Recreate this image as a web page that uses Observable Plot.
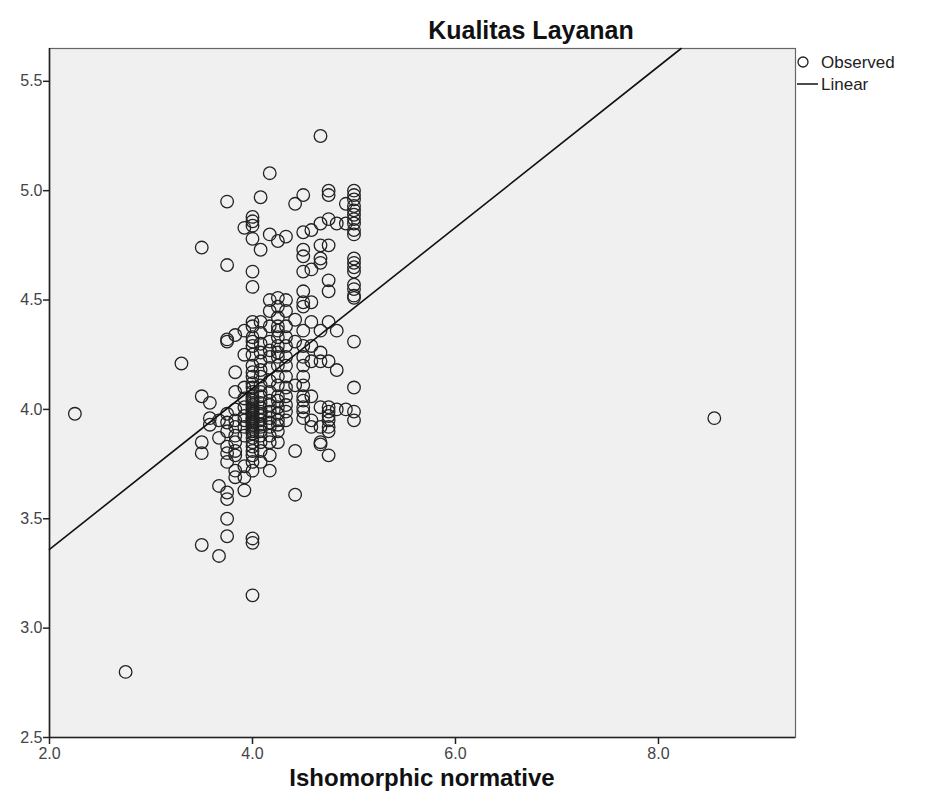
<!DOCTYPE html>
<html><head><meta charset="utf-8">
<script src="https://cdn.jsdelivr.net/npm/d3@7"></script>
<script src="https://cdn.jsdelivr.net/npm/@observablehq/plot@0.6"></script>
<style>body{margin:0;background:#fff}</style>
</head><body><div id="chart"></div>
<script>
const title = "Kualitas Layanan";
const xLabel = "Ishomorphic normative";
const legendLabels = ["Observed", "Linear"];
const xDomain = [2, 9.35];
const yDomain = [2.5, 5.65];
const xTicks = [2, 4, 6, 8];
const yTicks = [2.5, 3.0, 3.5, 4.0, 4.5, 5.0, 5.5];
const fitIntercept = 2.624;
const fitSlope = 0.368;

// observed values, grouped by x value
const colX = [2.25, 2.75, 3.3, 8.55, 3.5, 3.58, 3.67, 3.75, 3.83, 3.92, 4.0, 4.08, 4.17, 4.25, 4.33, 4.42, 4.5, 4.58, 4.67, 4.75, 4.83, 4.92, 5.0];
const colY = [
  [3.98],
  [2.80],
  [4.21],
  [3.96],
  [4.74, 3.85, 3.80, 3.38, 4.06],
  [4.03, 3.96, 3.93],
  [3.65, 3.33, 3.95, 3.87],
  [4.95, 4.66, 4.31, 4.32, 3.62, 3.59, 3.50, 3.42, 3.98, 3.94, 3.90, 3.83, 3.80, 3.76],
  [4.34, 4.17, 3.85, 3.81, 3.79, 3.72, 3.69, 4.00, 3.95, 3.92, 3.88, 4.08],
  [4.83, 4.25, 4.36, 3.63, 3.69, 3.74, 4.01, 3.95, 3.97, 3.92, 3.88, 4.05, 4.10],
  [4.88, 4.86, 4.84, 4.78, 4.63, 4.56, 4.40, 4.38, 4.33, 4.31, 4.29, 4.25, 4.20, 4.17, 4.15, 4.12, 4.10, 4.08, 4.06, 4.05, 4.04, 4.03, 4.02, 4.01, 4.00, 3.99, 3.98, 3.98, 3.97, 3.96, 3.96, 3.95, 3.94, 3.94, 3.93, 3.92, 3.91, 3.90, 3.89, 3.87, 3.85, 3.83, 3.81, 3.79, 3.76, 3.72, 3.41, 3.39, 3.15],
  [4.97, 4.73, 4.40, 4.35, 4.30, 4.26, 4.22, 4.18, 4.15, 4.11, 4.08, 4.06, 4.03, 4.01, 3.99, 3.98, 3.97, 3.95, 3.93, 3.92, 3.90, 3.88, 3.85, 3.81, 3.76],
  [5.08, 4.80, 4.50, 4.45, 4.38, 4.31, 4.27, 4.24, 4.19, 4.13, 4.08, 4.04, 4.02, 3.99, 3.96, 3.94, 3.92, 3.88, 3.85, 3.79, 3.72],
  [4.77, 4.51, 4.47, 4.42, 4.38, 4.36, 4.33, 4.29, 4.26, 4.24, 4.20, 4.15, 4.11, 4.06, 4.04, 4.01, 3.98, 3.95, 3.93, 3.90, 3.85],
  [4.79, 4.50, 4.45, 4.38, 4.33, 4.29, 4.24, 4.20, 4.15, 4.10, 4.06, 4.02, 3.99, 3.95],
  [4.94, 4.41, 4.31, 4.11, 3.81, 3.61],
  [4.98, 4.81, 4.73, 4.70, 4.63, 4.54, 4.49, 4.47, 4.36, 4.29, 4.24, 4.20, 4.15, 4.11, 4.06, 4.04, 4.01, 3.99, 3.96],
  [4.82, 4.64, 4.49, 4.40, 4.29, 4.22, 4.06, 3.95, 3.92],
  [5.25, 4.85, 4.75, 4.69, 4.67, 4.36, 4.26, 4.22, 4.01, 3.92, 3.85, 3.84],
  [5.00, 4.98, 4.87, 4.75, 4.59, 4.54, 4.40, 4.22, 4.01, 3.99, 3.97, 3.95, 3.92, 3.90, 3.79],
  [4.85, 4.18, 4.36, 4.00],
  [4.94, 4.00, 4.85],
  [5.00, 4.98, 4.96, 4.93, 4.91, 4.89, 4.87, 4.85, 4.82, 4.80, 4.69, 4.67, 4.65, 4.63, 4.57, 4.55, 4.52, 4.51, 4.31, 4.10, 3.99, 3.95]
];

const points = colX.flatMap((x, i) => colY[i].map(y => ({x, y})));
const xEnd = Math.min(xDomain[1], (yDomain[1] - fitIntercept) / fitSlope);
const fitLine = [xDomain[0], xEnd].map(x => ({x, y: fitIntercept + fitSlope * x}));

const fmt = d3.format(".1f");
const plot = Plot.plot({
  width: 936, height: 812,
  marginLeft: 49, marginRight: 141, marginTop: 48, marginBottom: 75,
  style: {fontFamily: "'Liberation Sans', Arial, sans-serif", fontSize: "16px", background: "#fff", color: "#333"},
  x: {domain: xDomain, label: null},
  y: {domain: yDomain, label: null},
  marks: [
    Plot.frame({fill: "#f0f0f0", stroke: "#666", strokeWidth: 1.2}),
    Plot.axisX({ticks: xTicks, tickFormat: fmt, tickSize: 7, tickPadding: 3, stroke: "#222", strokeWidth: 1.5, fill: "#444", label: null}),
    Plot.axisY({ticks: yTicks, tickFormat: fmt, tickSize: 6, tickPadding: 1, stroke: "#222", strokeWidth: 1.5, fill: "#444", label: null}),
    Plot.ruleX([xDomain[0]], {stroke: "#222", strokeWidth: 1.6}),
    Plot.ruleY([yDomain[0]], {stroke: "#222", strokeWidth: 1.6}),
    Plot.dot(points, {x: "x", y: "y", r: 6.3, stroke: "#222", strokeWidth: 1.3, fill: "none"}),
    Plot.line(fitLine, {x: "x", y: "y", stroke: "#111", strokeWidth: 1.6})
  ]
});
document.getElementById("chart").append(plot);

const svg = d3.select(plot);
svg.append("text").attr("x", 531).attr("y", 39).attr("text-anchor", "middle")
  .attr("font-size", 25).attr("font-weight", "bold").attr("fill", "#111").text(title);
svg.append("text").attr("x", 422).attr("y", 786).attr("text-anchor", "middle")
  .attr("font-size", 24).attr("font-weight", "bold").attr("fill", "#111").text(xLabel);
const lg = svg.append("g").attr("font-size", 17).attr("fill", "#222").attr("text-anchor", "start");
lg.append("circle").attr("cx", 803).attr("cy", 62).attr("r", 5).attr("fill", "none").attr("stroke", "#222").attr("stroke-width", 1.3);
lg.append("text").attr("x", 821).attr("y", 68).text(legendLabels[0]);
lg.append("line").attr("x1", 797).attr("x2", 818).attr("y1", 84).attr("y2", 84).attr("stroke", "#111").attr("stroke-width", 1.5);
lg.append("text").attr("x", 821).attr("y", 90).text(legendLabels[1]);
</script>
</body></html>
